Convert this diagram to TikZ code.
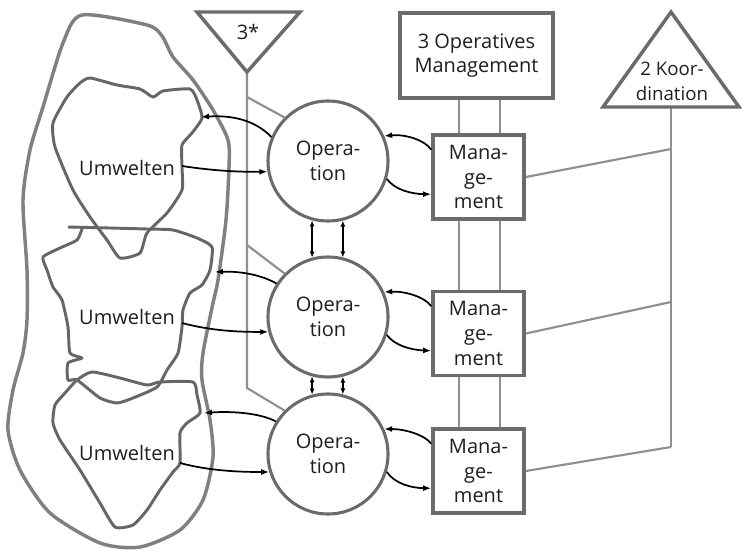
\documentclass[tikz,border=0pt]{standalone}
\usepackage{fontspec}
\setmainfont{Open Sans}
\usetikzlibrary{arrows.meta}
\definecolor{shapegray}{gray}{0.42}
\definecolor{linegray}{gray}{0.56}
\definecolor{blobgray}{gray}{0.40}
\definecolor{outergray}{gray}{0.50}
\definecolor{textgray}{gray}{0.12}
\begin{document}
\begin{tikzpicture}[x=0.75pt,y=-0.75pt,
  label text/.style={font=\fontsize{15}{18.5}\selectfont, text=textgray, align=center},
  opcircle/.style={circle, draw=shapegray, line width=2.3pt, fill=white,
    minimum size=90pt, inner sep=0pt, label text},
  mgmtbox/.style={rectangle, draw=shapegray, line width=2.8pt, fill=white,
    minimum width=68.25pt, minimum height=63pt, inner sep=0pt, label text},
  thinline/.style={draw=linegray, line width=1.6pt},
  blob/.style={draw=blobgray, line width=2.2pt, line join=round},
  outerblob/.style={draw=outergray, line width=2.6pt, line join=round},
  arr/.style={draw=black, line width=1.3pt, -{Latex[length=6pt,width=4.5pt]}},
  twoarr/.style={draw=black, line width=1.1pt, {Latex[length=4.5pt,width=3.8pt]}-{Latex[length=4.5pt,width=3.8pt]}}
]
\useasboundingbox (0,0) rectangle (742,550);
\fill[white] (0,0) rectangle (742,550);

% ---- environment outline and the three environments
\draw[outerblob] plot[smooth cycle, tension=0.45] coordinates {
  (82,15) (147,25) (162,36) (173,57) (193,80) (213,110) (228,140) (229,167)
  (226,220) (218,280) (213,303) (203,353) (202,380) (210,420) (213,457)
  (203,500) (180,530) (140,547) (100,543) (50,513) (20,470) (8,430)
  (13,390) (23,353) (27,320) (27,270) (23,200) (30,150) (43,107) (63,43)};

\draw[blob] plot[smooth cycle, tension=0.35] coordinates {
  (90,78) (117,85) (140,89) (153,97) (163,91) (190,89) (197,100) (202,118)
  (192,133) (182,145) (182,167) (182,190) (167,213) (147,233) (140,253)
  (120,258) (107,240) (90,217) (73,190) (55,147) (53,123) (67,97) (80,83)};

\draw[blob] plot[smooth, tension=0.35] coordinates {
  (68,227) (110,228) (147,229) (173,230) (197,238) (212,247) (210,270)
  (202,285) (190,293) (183,310) (182,327) (178,353) (167,370) (157,387)
  (133,398) (117,403) (100,398) (77,380) (68,380) (68,363) (82,358)
  (70,353) (68,327) (62,300) (53,287) (47,270) (43,257) (60,248) (77,240) (82,229)};

\draw[blob] plot[smooth cycle, tension=0.35] coordinates {
  (77,380) (92,372) (120,378) (147,385) (160,382) (193,382) (197,395)
  (200,413) (187,423) (180,433) (180,463) (173,472) (160,490) (147,510)
  (133,525) (115,527) (100,503) (80,470) (60,440) (53,423) (55,405) (65,393)};

\node[label text] (u1) at (127,168) {Umwelten};
\node[label text] (u2) at (127,317) {Umwelten};
\node[label text] (u3) at (127,453) {Umwelten};

% ---- system 3* (audit channel)
\coordinate (t3a) at (197,12);
\coordinate (t3b) at (300,12);
\coordinate (t3c) at (247,72);
\coordinate (s1) at (247,97);
\coordinate (s2) at (247,245);
\coordinate (s3) at (247,388);

% ---- system 2 (coordination)
\coordinate (k0) at (671,107);
\coordinate (k1) at (671,149);
\coordinate (k2) at (671,302);
\coordinate (k3) at (671,447);

% ---- operations and their management units
\node[opcircle] (op1) at (328,161) {Opera-\\tion};
\node[opcircle] (op2) at (328,317) {Opera-\\tion};
\node[opcircle] (op3) at (328,454) {Opera-\\tion};

\node[rectangle, draw=shapegray, line width=2.8pt, fill=white,
  minimum width=114.75pt, minimum height=63.75pt, inner sep=0pt, label text]
  (om) at (476.5,55.5) {3 Operatives\\Management};

\coordinate (xa) at (459,0);
\coordinate (xb) at (500,0);

% gray channels behind the boxes
\draw[thinline] (om.south -| xa) -- (459,429);
\draw[thinline] (om.south -| xb) -- (500,429);
\draw[thinline] (t3c) -- (s3) -- (op3.135);
\draw[thinline] (s1) -- (op1.135);
\draw[thinline] (s2) -- (op2.135);
\draw[thinline] (k0) -- (k3);

\node[mgmtbox] (m1) at (478.5,177) {Mana-\\ge-\\ment};
\node[mgmtbox] (m2) at (478.5,333.5) {Mana-\\ge-\\ment};
\node[mgmtbox] (m3) at (478.5,471) {Mana-\\ge-\\ment};

\draw[thinline] (m1.east) -- (k1);
\draw[thinline] (m2.east) -- (k2);
\draw[thinline] (m3.east) -- (k3);

% triangles
\draw[draw=shapegray, line width=2.6pt, fill=white, line join=miter] (t3a) -- (t3b) -- (t3c) -- cycle;
\node[label text] (l3s) at (248,32) {3*};
\draw[draw=shapegray, line width=2.6pt, fill=white, line join=miter] (671,12) -- (739,107) -- (603,107) -- cycle;
\node[label text, font=\fontsize{14}{19}\selectfont] (l2) at (672,81) {2 Koor-\\dination};

% ---- arrows between environments and operations
\coordinate (u1o) at (182,166);
\coordinate (u1i) at (201,117);
\coordinate (u2o) at (182,323);
\coordinate (u2i) at (215,272);
\coordinate (u3o) at (180,463);
\coordinate (u3i) at (204,413);

\draw[arr] (u1o) .. controls (215,171) and (240,172) .. (op1.190);
\draw[arr] (op1.157) .. controls (255,120) and (232,115) .. (u1i);
\draw[arr] (u2o) .. controls (212,331) and (240,332) .. (op2.194);
\draw[arr] (op2.147) .. controls (262,275) and (240,271) .. (u2i);
\draw[arr] (u3o) .. controls (210,471) and (240,472) .. (op3.197);
\draw[arr] (op3.148) .. controls (260,413) and (232,411) .. (u3i);

% ---- arrows between operations and management
\draw[arr] (m1.150) .. controls (425,140) and (405,134) .. (op1.24);
\draw[arr] (op1.343) .. controls (395,190) and (412,194) .. (m1.200);
\draw[arr] (m2.150) .. controls (425,297) and (405,291) .. (op2.24);
\draw[arr] (op2.343) .. controls (395,346) and (412,350) .. (m2.200);
\draw[arr] (m3.150) .. controls (425,435) and (405,429) .. (op3.24);
\draw[arr] (op3.343) .. controls (395,484) and (412,488) .. (m3.200);

% ---- links between neighbouring operations
\draw[twoarr] (op1.255) -- (op2.105);
\draw[twoarr] (op1.284) -- (op2.76);
\draw[twoarr] (op2.255) -- (op3.105);
\draw[twoarr] (op2.284) -- (op3.76);
\end{tikzpicture}
\end{document}
